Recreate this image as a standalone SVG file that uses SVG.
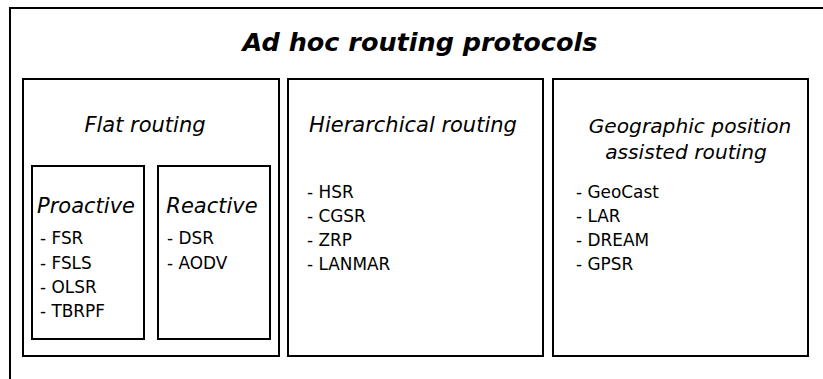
<svg xmlns="http://www.w3.org/2000/svg" width="823" height="379" viewBox="0 0 823 379">
  <style>
    .box { fill: #ffffff; stroke: #000000; stroke-width: 2; }
    .frame { fill: none; stroke: #000000; stroke-width: 2; }
    .title { font-family: "DejaVu Sans", sans-serif; font-size: 25.5px; font-weight: bold; font-style: oblique; fill: #000; }
    .head { font-family: "DejaVu Sans", sans-serif; font-size: 21px; font-style: oblique; fill: #000; text-anchor: middle; }
    .head.small { font-size: 20.2px; }
    .item { font-family: "DejaVu Sans", sans-serif; font-size: 16.9px; fill: #000; }
  </style>
  <rect width="823" height="379" fill="#ffffff"/>

  <!-- outer frame (top and left edges) -->
  <path class="frame" d="M10,379 V8 H823"/>
  <text class="title" x="420" y="51" text-anchor="middle">Ad hoc routing protocols</text>

  <g id="flat">
    <rect class="box" x="23" y="79" width="256" height="277"/>
    <text class="head" x="145" y="132">Flat routing</text>
  </g>

  <g id="proactive">
    <rect class="box" x="32" y="166" width="112" height="173"/>
    <text class="head" x="86" y="213">Proactive</text>
    <text class="item" x="40" y="244">- FSR</text>
    <text class="item" x="40" y="269">- FSLS</text>
    <text class="item" x="40" y="293">- OLSR</text>
    <text class="item" x="40" y="317">- TBRPF</text>
  </g>

  <g id="reactive">
    <rect class="box" x="158" y="166" width="112" height="173"/>
    <text class="head" x="212" y="213">Reactive</text>
    <text class="item" x="167" y="244">- DSR</text>
    <text class="item" x="167" y="269">- AODV</text>
  </g>

  <g id="hierarchical">
    <rect class="box" x="288" y="79" width="255" height="277"/>
    <text class="head" x="413" y="132">Hierarchical routing</text>
    <text class="item" x="307" y="198">- HSR</text>
    <text class="item" x="307" y="222">- CGSR</text>
    <text class="item" x="307" y="246">- ZRP</text>
    <text class="item" x="307" y="270">- LANMAR</text>
  </g>

  <g id="geographic">
    <rect class="box" x="553" y="79" width="255" height="277"/>
    <text class="head small" x="690" y="133">Geographic position</text>
    <text class="head small" x="686" y="159">assisted routing</text>
    <text class="item" x="576" y="198">- GeoCast</text>
    <text class="item" x="576" y="222">- LAR</text>
    <text class="item" x="576" y="246">- DREAM</text>
    <text class="item" x="576" y="270">- GPSR</text>
  </g>
</svg>
